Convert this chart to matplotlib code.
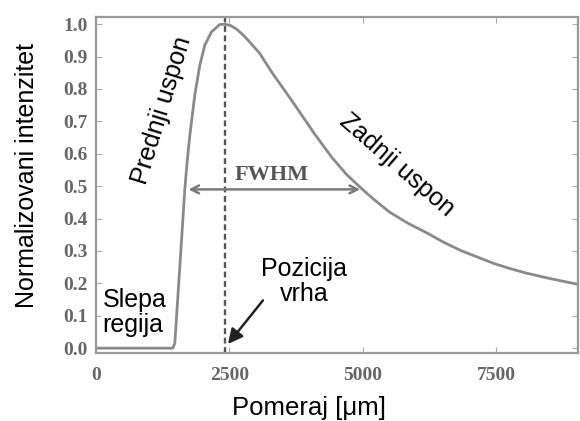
import matplotlib.pyplot as plt
import numpy as np

# krive ocitane sa slike
pomeraj = [0, 1000, 1440, 1477, 1570, 1664, 1710, 1758, 1851, 1945, 2038, 2163, 2319,
           2412, 2520, 2630, 2750, 2880, 3067, 3300, 3665, 3852, 4100, 4413, 4700,
           4993, 5200, 5500, 5850, 6208, 6500, 6825, 7150, 7442, 7750, 8078, 8500, 9030]
intenzitet = [0.0, 0.0, 0.0, 0.015, 0.25, 0.49, 0.58, 0.657, 0.781, 0.873, 0.935, 0.976, 0.999,
              1.0, 0.996, 0.985, 0.968, 0.945, 0.91, 0.85, 0.765, 0.72, 0.66, 0.59, 0.535,
              0.49, 0.46, 0.42, 0.385, 0.355, 0.328, 0.302, 0.281, 0.262, 0.246, 0.231, 0.215, 0.197]
x_ticks = [0, 2500, 5000, 7500]
y_ticks = [0.0, 0.1, 0.2, 0.3, 0.4, 0.5, 0.6, 0.7, 0.8, 0.9, 1.0]
vrh = 2420
fwhm = (1680, 5000)

fig = plt.figure(figsize=(5.8, 4.21), dpi=100)
ax = fig.add_axes([0.1655, 0.1615, 0.831, 0.798])

ax.plot(pomeraj, intenzitet, color='#8a8a8a', lw=2)
ax.axvline(vrh, color='#555555', lw=1.7, ls=(0, (2.5, 1.5)))
ax.annotate('', xy=(fwhm[0], 0.49), xytext=(fwhm[1], 0.49),
            arrowprops=dict(arrowstyle='<->', color='#7a7a7a', lw=1.8, mutation_scale=14))

ax.text(3290, 0.534, 'FWHM', family='Liberation Serif', fontweight='bold',
        fontsize=16, color='#555555', ha='center', va='center')
ax.text(1243, 0.735, 'Prednji uspon', rotation=73, fontsize=18, family='Liberation Sans',
        ha='center', va='center', rotation_mode='anchor')
ax.text(5647, 0.565, 'Zadnji uspon', rotation=-41, fontsize=18, family='Liberation Sans',
        ha='center', va='center', rotation_mode='anchor')
ax.text(120, 0.11, 'Slepa\nregija', fontsize=18, family='Liberation Sans',
        ha='left', va='center', linespacing=1.05,
        bbox=dict(facecolor='white', edgecolor='none', pad=1))
ax.text(3900, 0.205, 'Pozicija\nvrha', fontsize=18, family='Liberation Sans',
        ha='center', va='center', linespacing=1.05)
ax.annotate('', xy=(vrh + 20, 0.006), xytext=(3160, 0.154),
            arrowprops=dict(arrowstyle='-|>', color='#222222', lw=1.8, mutation_scale=22))

ax.set_xlim(0, 9030)
ax.set_ylim(-0.015, 1.022)
ax.set_xticks(x_ticks)
ax.set_xticklabels([str(t) for t in x_ticks])
ax.set_yticks(y_ticks)
ax.set_yticklabels(['%.1f' % t for t in y_ticks])
ax.tick_params(which='both', direction='in', top=True, right=True, color='#aaaaaa', length=4)
ax.tick_params(axis='x', pad=10)
ax.tick_params(axis='y', pad=6)
for lab in ax.get_xticklabels() + ax.get_yticklabels():
    lab.set_family('Liberation Serif')
    lab.set_fontweight('bold')
    lab.set_color('#666666')
    lab.set_fontsize(14)
for s in ax.spines.values():
    s.set_color('#999999')
    s.set_linewidth(1.6)

ax.set_xlabel('Pomeraj [μm]', fontsize=18.5, family='Liberation Sans', va='center')
ax.xaxis.set_label_coords(0.442, -0.164)
ax.set_ylabel('Normalizovani intenzitet', fontsize=18, family='Liberation Sans', va='center')
ax.yaxis.set_label_coords(-0.143, 0.527)

fig.savefig('out.png', dpi=100)
